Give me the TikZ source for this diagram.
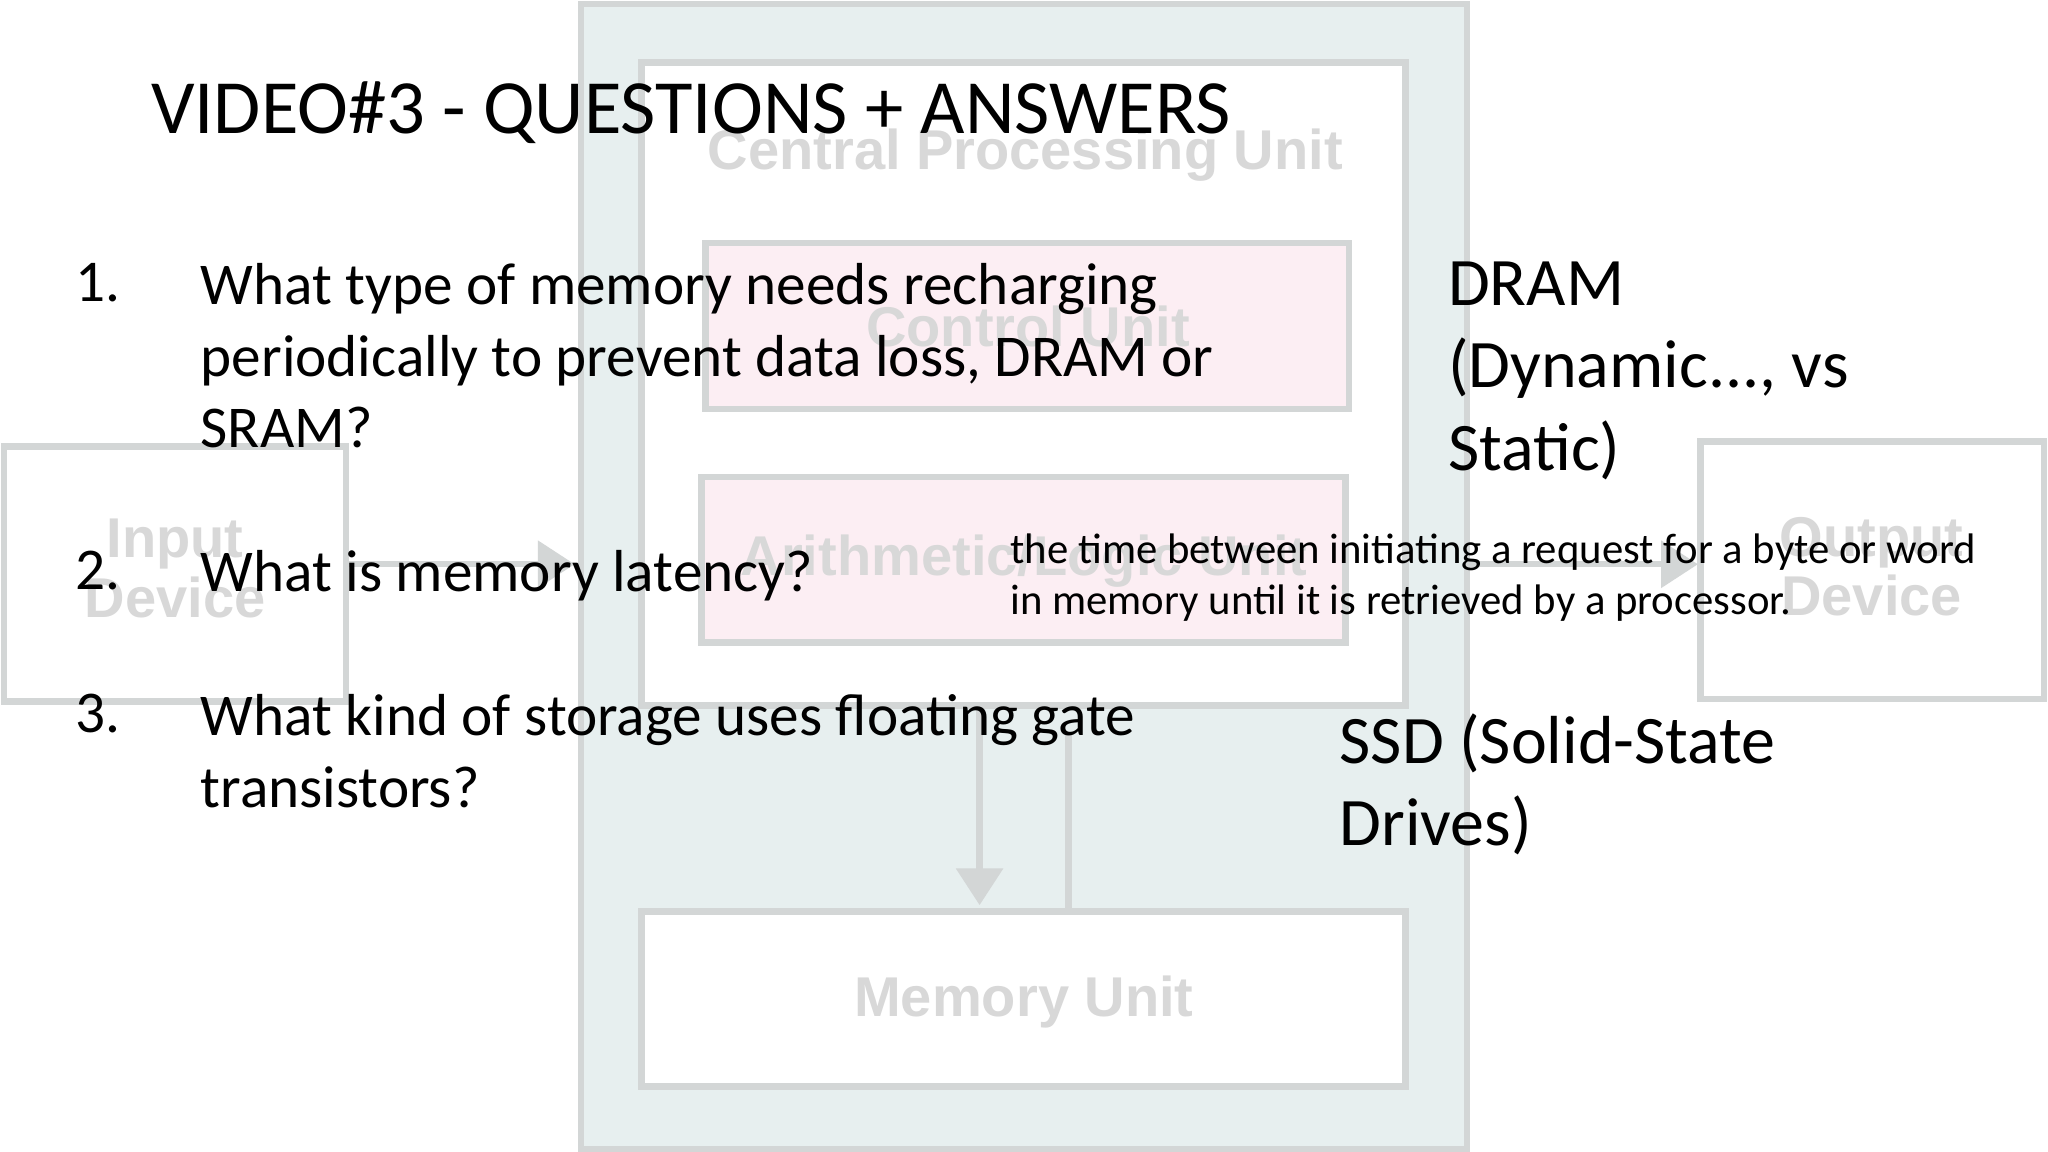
\documentclass[tikz,border=0pt]{standalone}
\usepackage{fontspec}
\setmainfont{Carlito}
\newfontfamily\arialf{Liberation Sans}
\usetikzlibrary{arrows.meta}
\definecolor{bgc}{HTML}{E7EFEF}
\definecolor{bdc}{HTML}{D3D6D6}
\definecolor{pk}{HTML}{FCEEF3}
\definecolor{lbl}{HTML}{D8D8D8}
\begin{document}
\begin{tikzpicture}[x=0.01cm,y=-0.01cm,
  box/.style={draw=bdc,line width=1.4pt,fill=white},
  lb/.style={font=\arialf\bfseries\fontsize{12.2}{13}\selectfont,text=lbl,align=center},
  t/.style={anchor=north west,inner sep=0pt,align=left},
  q/.style={t,font=\fontsize{12.9}{15.6}\selectfont},
  ar/.style={draw=bdc,line width=1.4pt,-{Triangle[width=10pt,length=8pt]}}]
\useasboundingbox (0,0) rectangle (1568,882);
\fill[white] (0,0) rectangle (1568,882);
\draw[box,fill=bgc] (445,3) rectangle (1123,880);
\draw[box] (491,48) rectangle (1076,540);
\node[lb] (cpu) at (785,119) {Central Processing Unit};
\draw[box,fill=pk] (540,186) rectangle (1033,313);
\node[lb] (cu) at (787,250) {Control Unit};
\draw[box,fill=pk] (537,365) rectangle (1030,492);
\node[lb] (alu) at (784,430) {Arithmetic/Logic Unit};
\draw[box] (3,342) rectangle (265,537);
\node[lb] (in) at (134,435) {Input\\Device};
\draw[box] (1302,338) rectangle (1565,535);
\node[lb] (out) at (1433,434) {Output\\Device};
\draw[box] (491,698) rectangle (1076,832);
\node[lb] (mem) at (784,767) {Memory Unit};
\coordinate (a1) at (265,432); \coordinate (a2) at (440,432);
\draw[ar] (a1) -- (a2);
\coordinate (b1) at (1123,432); \coordinate (b2) at (1300,432);
\draw[ar] (b1) -- (b2);
\coordinate (c1) at (750,542); \coordinate (c2) at (750,693);
\draw[ar] (c1) -- (c2);
\coordinate (d1) at (818,698); \coordinate (d2) at (818,562);
\draw[draw=bdc,line width=1.4pt] (d1) -- (d2);
\node[anchor=west,inner sep=0pt,font=\fontsize{16.7}{20}\selectfont] (title) at (115,86) {VIDEO\#3 - QUESTIONS + ANSWERS};
\node[q] (n1) at (57,201) {1.};
\node[q] (q1) at (153,201) {What type of memory needs recharging\\periodically to prevent data loss, DRAM or\\SRAM?};
\node[q] (n2) at (57,421) {2.};
\node[q] (q2) at (153,421) {What is memory latency?};
\node[q] (n3) at (57,531) {3.};
\node[q] (q3) at (153,531) {What kind of storage uses floating gate\\transistors?};
\node[t,font=\fontsize{14.8}{17.9}\selectfont] (a1t) at (1108,200) {DRAM\\(Dynamic..., vs\\Static)};
\node[t,font=\fontsize{9.3}{11.1}\selectfont] (a2t) at (773,408) {the time between initiating a request for a byte or word\\in memory until it is retrieved by a processor.};
\node[t,font=\fontsize{14.8}{17.9}\selectfont] (a3t) at (1025,546) {SSD (Solid-State\\Drives)};
\end{tikzpicture}
\end{document}
